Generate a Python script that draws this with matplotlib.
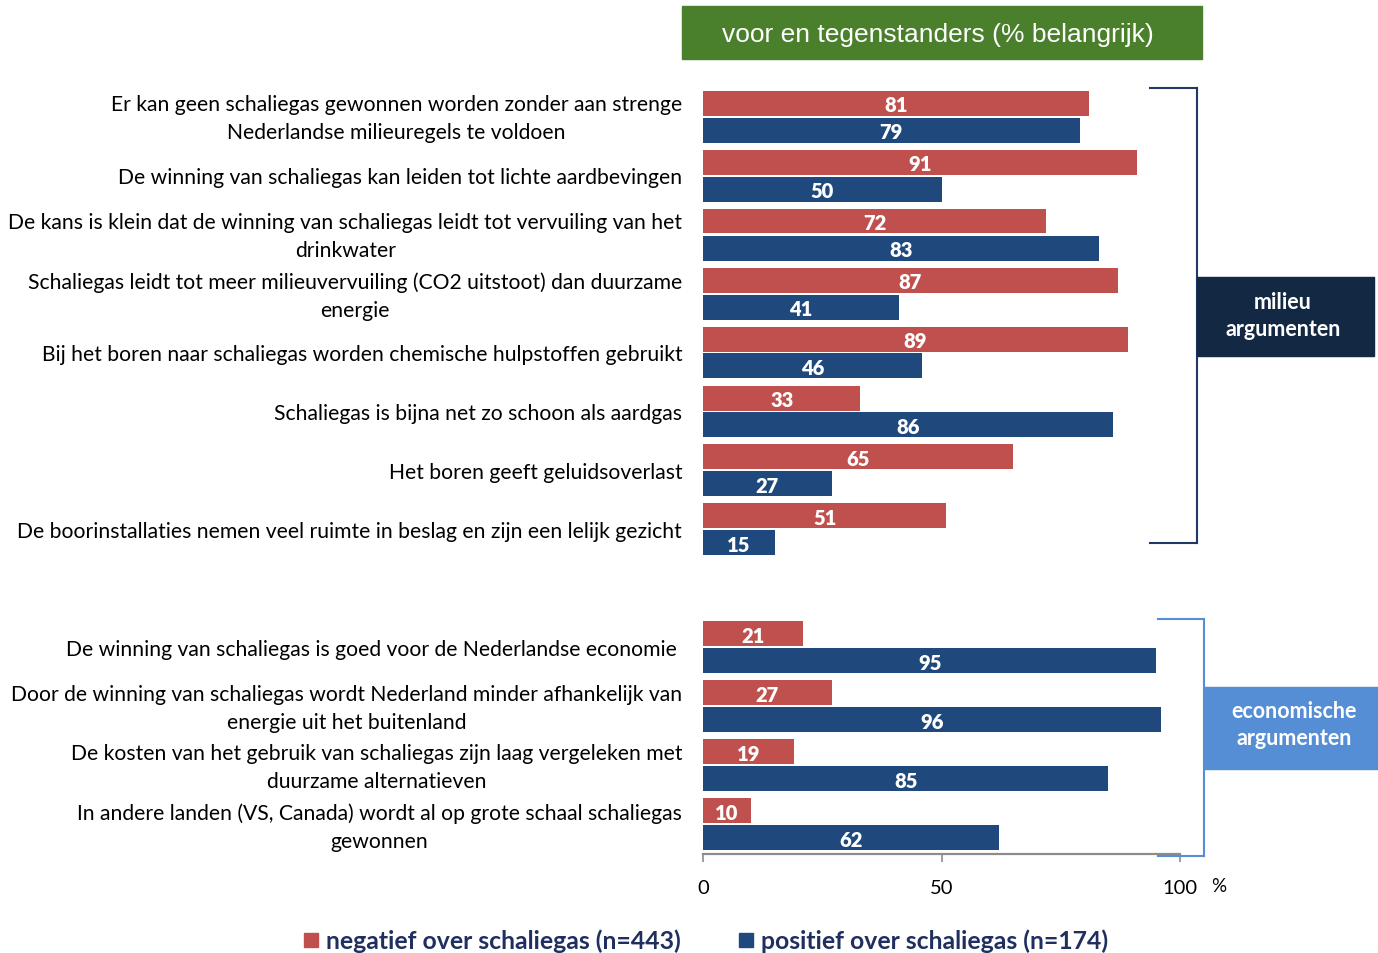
import matplotlib
matplotlib.use("Agg")
import matplotlib.pyplot as plt
from matplotlib.patches import Rectangle
from matplotlib.lines import Line2D

categories = [
    "Er kan geen schaliegas gewonnen worden zonder aan strenge\nNederlandse milieuregels te voldoen",
    "De winning van schaliegas kan leiden tot lichte aardbevingen",
    "De kans is klein dat de winning van schaliegas leidt tot vervuiling van het\ndrinkwater",
    "Schaliegas leidt tot meer milieuvervuiling (CO2 uitstoot) dan duurzame\nenergie",
    "Bij het boren naar schaliegas worden chemische hulpstoffen gebruikt",
    "Schaliegas is bijna net zo schoon als aardgas",
    "Het boren geeft geluidsoverlast",
    "De boorinstallaties nemen veel ruimte in beslag en zijn een lelijk gezicht",
    "De winning van schaliegas is goed voor de Nederlandse economie ",
    "Door de winning van schaliegas wordt Nederland minder afhankelijk van\nenergie uit het buitenland",
    "De kosten van het gebruik van schaliegas zijn laag vergeleken met\nduurzame alternatieven",
    "In andere landen (VS, Canada) wordt al op grote schaal schaliegas\ngewonnen",
]
negatief = [81, 91, 72, 87, 89, 33, 65, 51, 21, 27, 19, 10]
positief = [79, 50, 83, 41, 46, 86, 27, 15, 95, 96, 85, 62]
rows = [0, 1, 2, 3, 4, 5, 6, 7, 9, 10, 11, 12]
xticks = [0, 50, 100]

RED = "#C0504D"
BLUE = "#1F497D"
FONT = ["Lato", "DejaVu Sans"]
plt.rcParams["font.family"] = FONT

W, H = 1378, 954
fig = plt.figure(figsize=(W / 100, H / 100), dpi=100)

def fx(px):
    return px / W

def fy(py):
    return 1 - py / H

ax_left, ax_right, ax_top, ax_bot = 703, 1180, 80, 855
ax = fig.add_axes([fx(ax_left), fy(ax_bot), fx(ax_right - ax_left), (ax_bot - ax_top) / H])

pitch = 59.0
off = 27.0 / pitch
bh = 25.0 / pitch
red_y = [r for r in rows]
blue_y = [r + off for r in rows]

ax.barh(red_y, negatief, height=bh, color=RED)
ax.barh(blue_y, positief, height=bh, color=BLUE)
lab_dy = 2.0 / pitch
for y, v in zip(red_y, negatief):
    ax.text(v / 2, y + lab_dy, str(v), ha="center", va="center", color="white",
            fontsize=14.5, fontweight="heavy")
for y, v in zip(blue_y, positief):
    ax.text(v / 2, y + lab_dy, str(v), ha="center", va="center", color="white",
            fontsize=14.5, fontweight="heavy")

ax.set_xlim(0, 100)
ax.set_ylim((ax_bot - 104) / pitch, (ax_top - 104) / pitch)

for s in ["top", "right", "left"]:
    ax.spines[s].set_visible(False)
ax.spines["bottom"].set_color("#8c8c8c")
ax.spines["bottom"].set_linewidth(1.6)

ax.set_xticks(xticks)
ax.set_xticklabels([str(t) for t in xticks], fontsize=14.5)
ax.tick_params(axis="x", length=6, width=1.2, color="#8c8c8c", pad=12)

ax.set_yticks([r + off / 2 + 2.0 / pitch for r in rows])
ax.set_yticklabels(categories, fontsize=15.2, linespacing=1.5)
ax.tick_params(axis="y", length=0, pad=15)
for lbl in ax.get_yticklabels():
    lbl.set_multialignment("center")
    lbl.set_verticalalignment("center")

fig.text(fx(1219), fy(887), "%", ha="center", va="center", fontsize=13.5)

# title box
fig.patches.append(Rectangle((fx(682), fy(60)), fx(1202 - 682), (60 - 7) / H,
                             transform=fig.transFigure, color="#4A7F2B", zorder=0))
fig.text(fx(938), fy(35), "voor en tegenstanders (% belangrijk)", ha="center", va="center",
         color="white", fontsize=19, family="Liberation Sans")

# milieu bracket
NAVY = "#1F3864"
for (x0, y0, x1, y1) in [(1150, 89, 1197, 89), (1197, 89, 1197, 544), (1150, 544, 1197, 544)]:
    fig.add_artist(Line2D([fx(x0), fx(x1)], [fy(y0), fy(y1)], color=NAVY, lw=1.5,
                          transform=fig.transFigure))
fig.patches.append(Rectangle((fx(1197), fy(357)), fx(1374 - 1197), (357 - 278) / H,
                             transform=fig.transFigure, color="#132842", zorder=2))
fig.text(fx(1283), fy(316), "milieu\nargumenten", ha="center", va="center", color="white",
         fontsize=15.5, fontweight="bold", linespacing=1.4, zorder=3)

# economische bracket
LB = "#558ED5"
for (x0, y0, x1, y1) in [(1158, 620, 1204, 620), (1204, 620, 1204, 857), (1158, 857, 1204, 857)]:
    fig.add_artist(Line2D([fx(x0), fx(x1)], [fy(y0), fy(y1)], color=LB, lw=1.5,
                          transform=fig.transFigure, zorder=5))
fig.patches.append(Rectangle((fx(1204), fy(770)), fx(1378 - 1204), (770 - 688) / H,
                             transform=fig.transFigure, color=LB, zorder=2))
fig.text(fx(1294), fy(725), "economische\nargumenten", ha="center", va="center", color="white",
         fontsize=15.5, fontweight="bold", linespacing=1.4, zorder=3)

# legend
LEG_TXT = "#1F2F5F"
fig.patches.append(Rectangle((fx(304), fy(948)), fx(14), 14 / H, transform=fig.transFigure, color=RED))
fig.text(fx(326), fy(941), "negatief over schaliegas (n=443)", ha="left", va="center",
         color=LEG_TXT, fontsize=17.8, fontweight="bold")
fig.patches.append(Rectangle((fx(739), fy(948)), fx(14), 14 / H, transform=fig.transFigure, color=BLUE))
fig.text(fx(761), fy(941), "positief over schaliegas (n=174)", ha="left", va="center",
         color=LEG_TXT, fontsize=17.8, fontweight="bold")

fig.savefig("out.png", dpi=100)
